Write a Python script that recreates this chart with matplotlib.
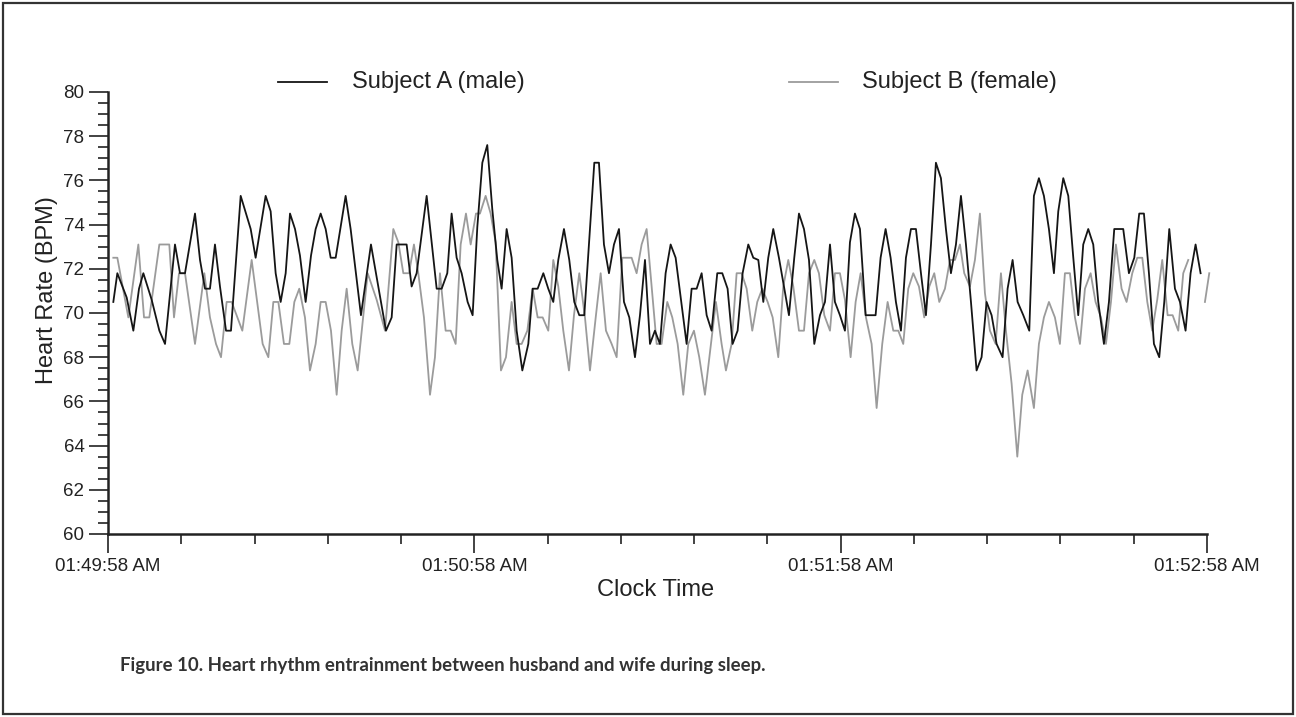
import numpy as np
import matplotlib
matplotlib.use('Agg')
import matplotlib.pyplot as plt
from matplotlib.lines import Line2D
from matplotlib.patches import Rectangle

plt.rcParams['font.family'] = ['Liberation Sans', 'DejaVu Sans']

# x axis: seconds after 01:49:58 AM
tick_secs = [0, 60, 120, 180]
tick_labels = ['01:49:58 AM', '01:50:58 AM', '01:51:58 AM', '01:52:58 AM']

# Subject A (male), beat-by-beat heart rate
a_time = [0.87, 1.53, 3.06, 4.15, 5.08, 5.79, 7.15, 8.41, 9.34, 10.97, 11.79, 12.61, 14.25, 15.07,
          15.89, 16.70, 17.52, 18.34, 19.33, 20.14, 21.73, 23.37, 24.18, 25.82, 26.64, 27.46, 28.28,
          29.10, 29.81,
          30.63, 31.44, 32.37, 33.25, 34.01, 34.83, 35.65, 36.47, 37.29, 38.92, 39.74, 41.43, 43.07,
          44.27, 45.53, 46.46, 47.28, 48.91, 49.73, 50.55, 52.19, 53.83, 54.65, 55.57, 56.28, 57.10,
          57.92, 58.90, 59.72,
          60.49, 61.31, 62.12, 62.94, 63.76, 64.47, 65.29, 66.11, 66.93, 67.86, 68.84, 69.55, 70.37,
          71.30, 72.11, 72.93, 73.75, 74.68, 75.55, 76.37, 77.19, 78.01, 78.94, 79.65, 80.41, 81.23,
          82.05, 82.87, 83.69, 84.51, 85.38, 86.31, 87.13, 87.95, 88.77, 89.58, 90.40,
          91.33, 92.15, 92.97, 93.84, 94.77, 95.59, 96.41, 97.23, 98.05, 98.86, 99.79, 100.61,
          101.48, 102.30, 103.12, 103.94, 104.87, 105.69, 106.51, 107.33, 108.14, 108.96, 109.89,
          110.71, 111.53, 112.40, 113.17, 113.99, 114.81, 115.68, 116.61, 117.43, 118.25, 119.06,
          119.88, 120.70,
          121.52, 122.34, 123.16, 124.09, 124.90, 125.72, 126.54, 127.36, 128.18, 129.05, 129.87,
          130.69, 131.51, 132.33, 133.15, 133.97, 134.79, 135.60, 136.42, 137.24, 138.06, 138.88,
          139.70, 140.52, 141.34, 142.26, 143.08, 143.90, 144.72, 145.54, 146.52, 147.34, 148.16,
          148.98, 149.91, 150.89,
          151.65, 152.47, 153.29, 154.11, 154.93, 155.64, 156.46, 157.28, 158.10, 158.91, 159.73,
          160.55, 161.37, 162.19, 163.12, 163.94, 164.81, 166.28, 167.21, 168.09, 168.90, 169.67,
          170.49, 171.31, 172.18, 173.00, 173.82, 174.75, 175.57, 176.49, 177.31, 178.13, 178.95]
a_bpm = [70.5, 71.8, 70.7, 69.2, 71.1, 71.8, 70.6, 69.2, 68.6, 73.1, 71.8, 71.8, 74.5, 72.4,
         71.1, 71.1, 73.1, 71.2, 69.2, 69.2, 75.3, 73.8, 72.5, 75.3, 74.6, 71.8, 70.5,
         71.8, 74.5,
         73.8, 72.6, 70.5, 72.6, 73.8, 74.5, 73.8, 72.5, 72.5, 75.3, 73.8, 69.9, 73.1,
         71.2, 69.2, 69.8, 73.1, 73.1, 71.2, 71.8, 75.3, 71.1, 71.1, 71.8, 74.5, 72.5,
         71.8, 70.5, 69.9,
         73.9, 76.8, 77.6, 74.7, 72.4, 71.1, 73.8, 72.5, 69.2, 67.4, 68.6, 71.1, 71.1,
         71.8, 71.1, 70.5, 72.4, 73.8, 72.4, 70.5, 69.9, 69.9, 73.8, 76.8, 76.8, 73.1,
         71.8, 73.1, 73.8, 70.5, 69.8, 68.0, 69.9, 72.4, 68.6, 69.2, 68.6,
         71.8, 73.1, 72.5, 70.6, 68.6, 71.1, 71.1, 71.8, 69.9, 69.2, 71.8, 71.8,
         71.1, 68.6, 69.2, 71.8, 73.1, 72.5, 72.4, 70.5, 72.5, 73.8, 72.5,
         71.2, 69.9, 72.5, 74.5, 73.8, 72.4, 68.6, 69.9, 70.5, 73.1, 70.5,
         69.9, 69.2,
         73.2, 74.5, 73.8, 69.9, 69.9, 69.9, 72.5, 73.8, 72.5, 70.5, 69.2,
         72.5, 73.8, 73.8, 71.8, 69.9, 73.1, 76.8, 76.1, 73.8, 71.8, 73.1,
         75.3, 73.1, 70.5, 67.4, 68.0, 70.5, 69.9, 68.6, 68.0, 71.1, 72.4,
         70.5, 69.9, 69.2,
         75.3, 76.1, 75.3, 73.8, 71.8, 74.6, 76.1, 75.3, 72.5, 69.9, 73.1,
         73.8, 73.1, 70.5, 68.6, 70.5, 73.8, 73.8, 71.8, 72.5, 74.5, 74.5,
         71.8, 68.6, 68.0, 70.5, 73.8, 71.1, 70.5, 69.2, 71.8, 73.1, 71.8]

# Subject B (female); nan marks the short break in the trace near the end
b_time = [0.87, 1.53, 3.33, 4.97, 5.90, 6.77, 8.41, 10.04, 10.81, 11.63, 12.61, 14.25, 15.78,
          16.70, 17.69, 18.51, 19.43, 20.25, 22.00, 23.53, 25.33, 26.26, 27.08, 27.90, 28.82, 29.70,
          30.52, 31.33, 32.26, 33.08, 34.01, 34.83, 35.65, 36.52, 37.45, 38.27, 39.09, 40.01, 40.89,
          42.53, 44.00, 45.37, 46.73, 47.55, 48.37, 49.30, 50.11, 50.82, 51.75, 52.74, 53.55, 54.37,
          55.30, 56.12, 56.94, 57.76, 58.63, 59.40,
          60.27, 60.92, 61.85, 62.67, 63.49, 64.36, 65.18, 66.11, 66.93, 67.75, 68.68, 69.55, 70.37,
          71.19, 72.11, 72.93, 73.75, 74.57, 75.50, 76.32, 77.19, 78.12, 78.94, 79.92, 80.69, 81.56,
          82.49, 83.31, 84.23, 85.76, 86.58, 87.40, 88.22, 89.04, 89.86,
          90.67, 91.60, 92.42, 93.30, 94.22, 95.04, 95.97, 96.84, 97.77, 98.76, 99.57, 100.50,
          101.21, 102.14, 102.96, 103.78, 104.60, 105.52, 106.34, 107.16, 108.04, 108.86, 109.78,
          110.60, 111.42, 112.24, 113.17, 113.99, 114.81, 115.68, 116.44, 117.32, 118.25, 119.06,
          119.88, 120.70,
          121.63, 122.45, 123.27, 124.14, 125.07, 125.89, 126.81, 127.69, 128.62, 129.44, 130.25,
          131.07, 131.89, 132.82, 133.69, 134.51, 135.33, 136.15, 137.08, 137.90, 138.72, 139.54,
          140.24, 141.17, 141.99, 142.81, 143.63, 144.45, 145.38, 146.25, 147.07, 148.00, 148.93,
          149.74, 150.62,
          151.65, 152.47, 153.29, 154.11, 155.09, 155.91, 156.73, 157.55, 158.37, 159.19, 160.01,
          160.94, 161.75, 162.63, 163.45, 164.27, 165.08, 166.01, 166.83, 167.76, 168.58, 169.40,
          170.22, 171.03, 171.85, 172.67, 173.55, 174.37, 175.29, 176.11, 176.93, 178.30, 179.66,
          180.37]
b_bpm = [72.5, 72.5, 69.8, 73.1, 69.8, 69.8, 73.1, 73.1, 69.8, 71.8, 71.8, 68.6, 71.8,
         69.8, 68.6, 68.0, 70.5, 70.5, 69.2, 72.4, 68.6, 68.0, 70.5, 70.5, 68.6, 68.6,
         70.5, 71.1, 69.8, 67.4, 68.6, 70.5, 70.5, 69.2, 66.3, 69.2, 71.1, 68.6, 67.4,
         71.8, 70.6, 69.2, 73.8, 73.2, 71.8, 71.8, 73.1, 71.8, 69.8, 66.3, 68.0, 71.8,
         69.2, 69.2, 68.6, 73.1, 74.5, 73.1,
         74.5, 74.5, 75.3, 74.5, 73.2, 67.4, 68.0, 70.5, 68.6, 68.6, 69.2, 71.1, 69.8,
         69.8, 69.2, 72.4, 71.2, 69.2, 67.4, 69.9, 71.8, 69.8, 67.4, 69.9, 71.8, 69.2,
         68.6, 68.0, 72.5, 72.5, 71.8, 73.1, 73.8, 71.2, 68.6,
         68.6, 70.5, 69.8, 68.6, 66.3, 68.6, 69.2, 68.0, 66.3, 68.6, 70.5, 68.6,
         67.4, 68.6, 71.8, 71.8, 71.1, 69.2, 70.5, 71.1, 70.5, 69.8, 68.0,
         71.2, 72.4, 71.2, 69.2, 69.2, 71.8, 72.4, 71.8, 69.9, 69.2, 71.8,
         71.8, 70.6,
         68.0, 70.5, 71.8, 69.8, 68.6, 65.7, 68.6, 70.5, 69.2, 69.2, 68.6,
         71.1, 71.8, 71.2, 69.8, 71.2, 71.8, 70.5, 71.1, 72.4, 72.4, 73.1,
         71.8, 71.2, 72.4, 74.5, 70.9, 69.2, 68.6, 71.8, 69.2, 66.8, 63.5,
         66.3, 67.4,
         65.7, 68.6, 69.8, 70.5, 69.8, 68.6, 71.8, 71.8, 69.8, 68.6, 71.1,
         71.8, 70.5, 69.8, 68.6, 70.5, 73.1, 71.1, 70.5, 71.8, 72.5, 72.5,
         70.5, 69.2, 70.6, 72.4, 69.9, 69.9, 69.2, 71.8, 72.4, np.nan, 70.5,
         71.8]

W, H = 1296, 717
fig = plt.figure(figsize=(W / 100, H / 100), dpi=100)
ax = fig.add_axes([108 / W, 1 - 534 / H, (1207 - 108) / W, (534 - 92) / H])

ax.plot(b_time, b_bpm, color='#9b9b9b', lw=1.3, clip_on=False)
ax.plot(a_time, a_bpm, color='#151515', lw=1.3, clip_on=False)

ax.set_xlim(0, 180)
ax.set_ylim(60, 80)
for s in ['top', 'right']:
    ax.spines[s].set_visible(False)
for s in ['left', 'bottom']:
    ax.spines[s].set_linewidth(1.8)
    ax.spines[s].set_color('#222222')

ax.set_yticks(range(60, 81, 2))
ax.set_yticks(np.arange(60, 80.01, 0.5), minor=True)
ax.set_xticks(tick_secs, tick_labels)
ax.set_xticks(range(0, 181, 12), minor=True)
ax.tick_params(which='major', length=14, width=1.2, color='#222222', labelsize=13.5,
               labelcolor='#222222', pad=3)
ax.tick_params(which='minor', length=7, width=1.2, color='#222222')

# legend
fig.add_artist(Line2D([278 / W, 327 / W], [1 - 82 / H] * 2, color='#151515', lw=1.3))
fig.text(352 / W, 1 - 82 / H, 'Subject A (male)', fontsize=17, va='center', color='#222222')
fig.add_artist(Line2D([789 / W, 838 / W], [1 - 82 / H] * 2, color='#9b9b9b', lw=1.3))
fig.text(862 / W, 1 - 82 / H, 'Subject B (female)', fontsize=17, va='center', color='#222222')

fig.text(47 / W, 1 - 290 / H, 'Heart Rate (BPM)', fontsize=17, rotation=90,
         ha='center', va='center', color='#222222')
fig.text(656 / W, 1 - 590 / H, 'Clock Time', fontsize=17, ha='center', va='center',
         color='#222222')

fig.text(120 / W, 1 - 665 / H,
         'Figure 10. Heart rhythm entrainment between husband and wife during sleep.',
         fontsize=13.4, fontweight='bold', family=['Lato', 'DejaVu Sans'], color='#333333',
         va='center')

fig.add_artist(Rectangle((3 / W, 3 / H), 1290 / W, 711 / H, transform=fig.transFigure,
                         fill=False, lw=1.6, ec='#333333'))

fig.savefig('out.png', dpi=100)
